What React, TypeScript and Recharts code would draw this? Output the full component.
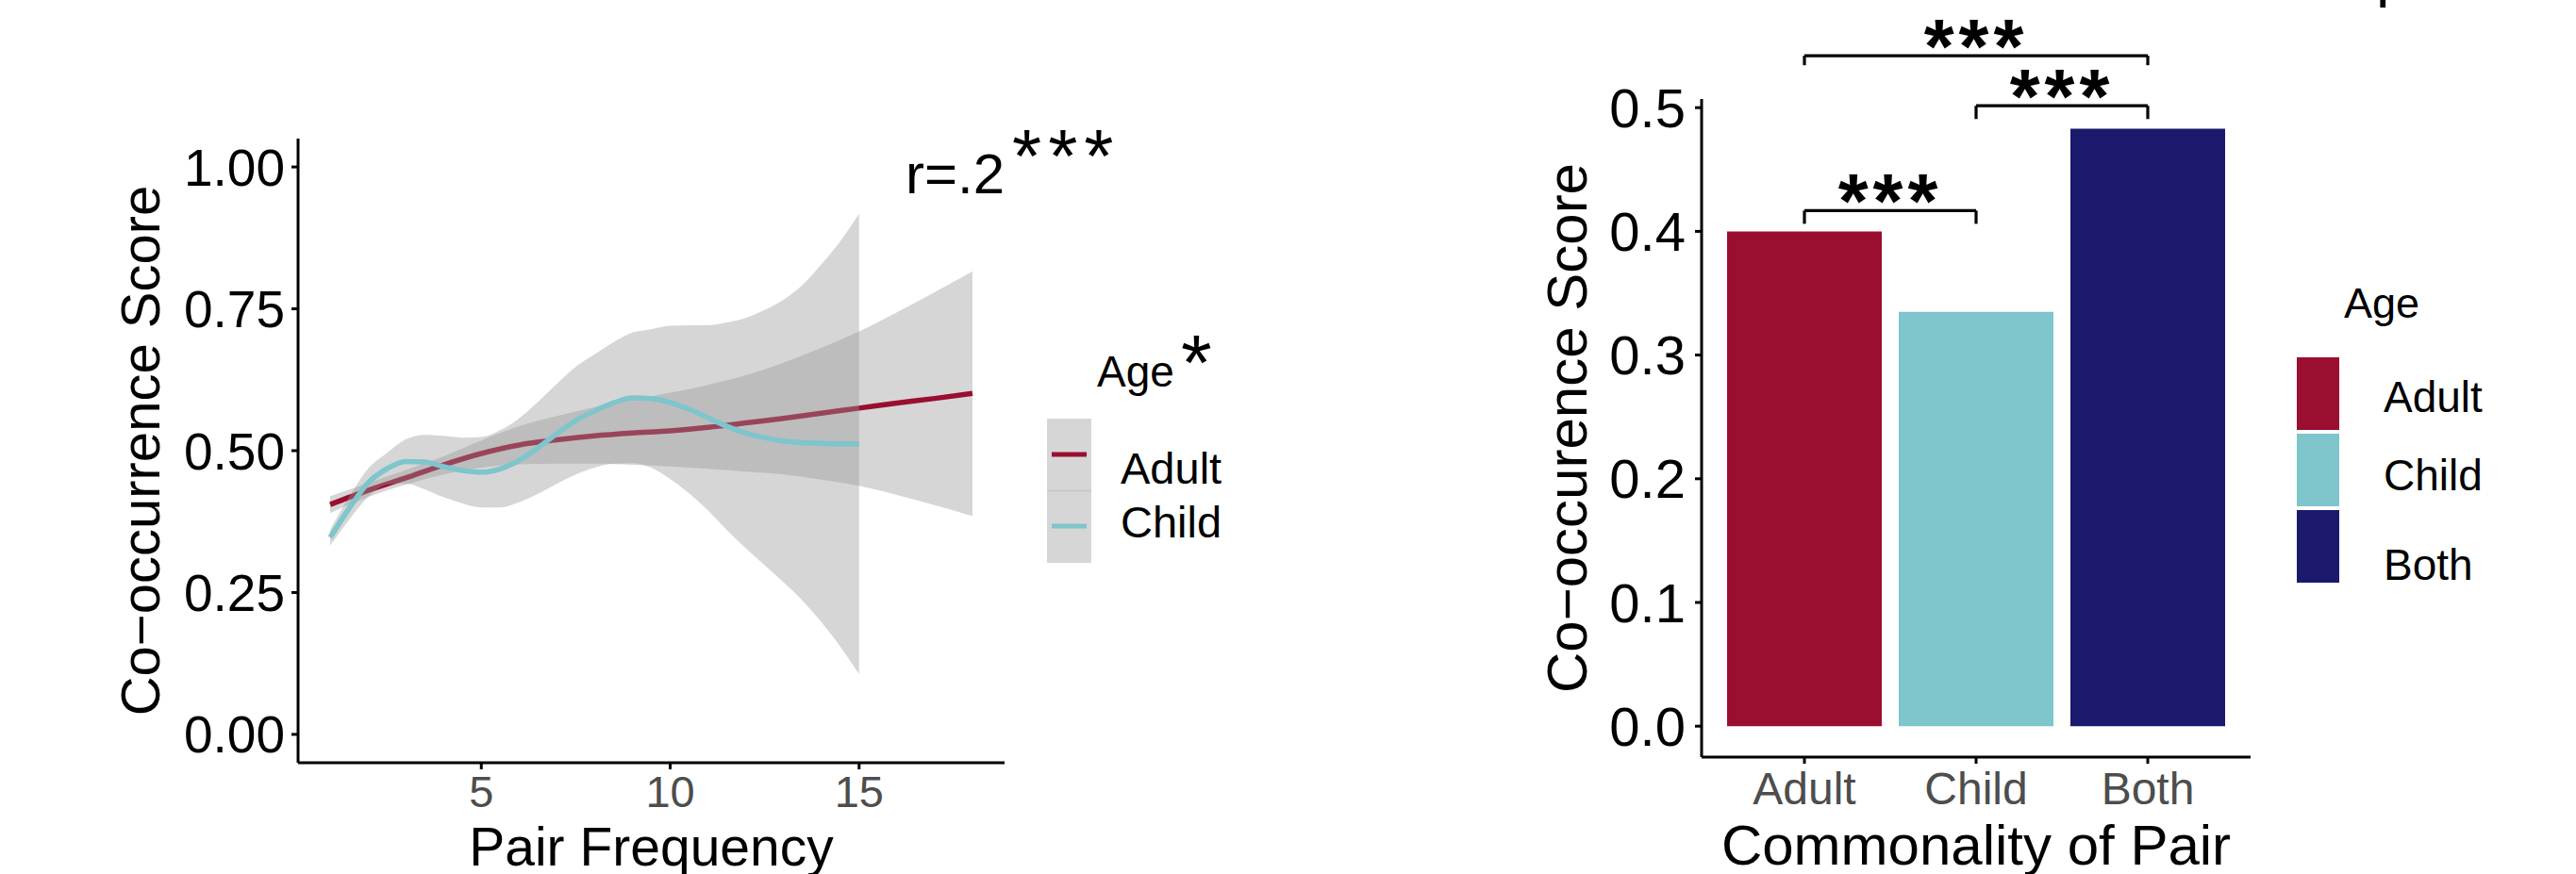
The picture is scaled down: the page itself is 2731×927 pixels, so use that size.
import React from "react";
import {
  Area,
  Bar,
  BarChart,
  Cell,
  ComposedChart,
  Line,
  ReferenceLine,
  XAxis,
  YAxis,
} from "recharts";

const FONT = '"Liberation Sans", Arial, Helvetica, sans-serif';

const ADULT = "#9A0E30";
const CHILD = "#7EC5CC";
const BOTH = "#1B196C";
const RIBBON = "#999999";

// left panel: smoothed score by pair frequency
const adultX = [1, 2, 3, 4, 5, 6, 7, 8, 9, 10, 11, 12, 13, 14, 15, 16, 17, 18];
const adultFit = [0.405, 0.43, 0.452, 0.475, 0.495, 0.51, 0.519, 0.526, 0.531, 0.535, 0.541, 0.549, 0.557, 0.566, 0.575, 0.584, 0.592, 0.601];
const adultLow = [0.39, 0.418, 0.44, 0.458, 0.47, 0.476, 0.477, 0.477, 0.475, 0.472, 0.468, 0.463, 0.458, 0.449, 0.438, 0.422, 0.404, 0.385];
const adultHigh = [0.42, 0.443, 0.466, 0.49, 0.518, 0.543, 0.561, 0.577, 0.59, 0.602, 0.616, 0.633, 0.655, 0.681, 0.71, 0.744, 0.779, 0.816];

const childX = [1, 1.5, 2, 2.5, 3, 3.5, 4, 4.5, 5, 5.5, 6, 6.5, 7, 7.5, 8, 8.5, 9, 9.5, 10, 10.5, 11, 11.5, 12, 12.5, 13, 13.5, 14, 14.5, 15];
const childFit = [0.347, 0.398, 0.443, 0.468, 0.481, 0.48, 0.472, 0.465, 0.462, 0.468, 0.483, 0.505, 0.53, 0.553, 0.57, 0.584, 0.593, 0.592, 0.585, 0.573, 0.558, 0.543, 0.531, 0.523, 0.517, 0.514, 0.513, 0.512, 0.512];
const childLow = [0.333, 0.378, 0.418, 0.44, 0.442, 0.432, 0.418, 0.407, 0.4, 0.4, 0.409, 0.424, 0.442, 0.458, 0.47, 0.477, 0.478, 0.47, 0.45, 0.425, 0.395, 0.36, 0.328, 0.298, 0.268, 0.236, 0.198, 0.155, 0.106];
const childHigh = [0.361, 0.418, 0.468, 0.496, 0.52, 0.528, 0.526, 0.523, 0.524, 0.536, 0.557, 0.586, 0.618, 0.648, 0.67, 0.691, 0.708, 0.714, 0.72, 0.721, 0.721, 0.726, 0.734, 0.748, 0.766, 0.792, 0.828, 0.869, 0.918];

const freqTicks = [5, 10, 15];
const scoreTicks = [0, 0.25, 0.5, 0.75, 1];

// right panel: mean score by commonality of pair
const commonality = ["Adult", "Child", "Both"];
const commonalityScore = [0.4, 0.335, 0.483];
const commonalityColors = [ADULT, CHILD, BOTH];
const barTicks = [0, 0.1, 0.2, 0.3, 0.4, 0.5];

const compFrom = ["Adult", "Child", "Adult"];
const compTo = ["Child", "Both", "Both"];
const compY = [0.4168, 0.5015, 0.542];
const compTip = [0.4061, 0.4908, 0.5343];
const compLabel = ["***", "***", "***"];

const adultRows = adultX.map((x, i) => ({ x, fit: adultFit[i], band: [adultLow[i], adultHigh[i]] }));
const childRows = childX.map((x, i) => ({ x, fit: childFit[i], band: [childLow[i], childHigh[i]] }));
const barRows = commonality.map((group, i) => ({ group, score: commonalityScore[i] }));

const axisStroke = { stroke: "#000", strokeWidth: 3 };

function StarLabel(props: any) {
  const vb = props.viewBox || {};
  return (
    <text
      x={vb.x + vb.width / 2}
      y={vb.y + 18}
      textAnchor="middle"
      fontSize={82}
      fontWeight="bold"
      letterSpacing={5}
      fill="#000"
      fontFamily={FONT}
    >
      {props.value}
    </text>
  );
}

function FrequencyPanel() {
  return (
    <ComposedChart width={1300} height={927} margin={{ top: 147, right: 235, bottom: 0, left: 0 }}>
      <XAxis
        type="number"
        dataKey="x"
        domain={[0.15, 18.85]}
        allowDataOverflow
        ticks={freqTicks}
        height={118}
        tickSize={7}
        tickMargin={7}
        tick={{ fontSize: 47, fill: "#4D4D4D" }}
        axisLine={axisStroke}
        tickLine={axisStroke}
        label={{ value: "Pair Frequency", position: "insideBottom", offset: 9, fontSize: 57, fill: "#000" }}
      />
      <YAxis
        type="number"
        domain={[-0.05, 1.05]}
        allowDataOverflow
        ticks={scoreTicks}
        width={316}
        tickSize={7}
        tickMargin={7}
        tickFormatter={(v: number) => v.toFixed(2)}
        tick={{ fontSize: 55, fill: "#000" }}
        axisLine={axisStroke}
        tickLine={axisStroke}
        label={{
          value: "Co\u2212occurrence Score",
          angle: -90,
          position: "insideLeft",
          offset: 148,
          fontSize: 58,
          fill: "#000",
          style: { textAnchor: "middle" },
        }}
      />
      <Area data={adultRows} dataKey="band" type="monotone" fill={RIBBON} fillOpacity={0.4} stroke="none" isAnimationActive={false} zIndex={101} />
      <Line data={adultRows} dataKey="fit" type="monotone" stroke={ADULT} strokeWidth={5.5} dot={false} activeDot={false} isAnimationActive={false} zIndex={102} />
      <Area data={childRows} dataKey="band" type="monotone" fill={RIBBON} fillOpacity={0.4} stroke="none" isAnimationActive={false} zIndex={103} />
      <Line data={childRows} dataKey="fit" type="monotone" stroke={CHILD} strokeWidth={5.5} dot={false} activeDot={false} isAnimationActive={false} zIndex={104} />
    </ComposedChart>
  );
}

function CommonalityPanel() {
  return (
    <BarChart width={1100} height={927} data={barRows} margin={{ top: 105, right: 164, bottom: 0, left: 0 }}>
      <XAxis
        type="category"
        dataKey="group"
        padding={{ left: 18, right: 18 }}
        height={124}
        tickSize={7}
        tickMargin={9}
        tick={{ fontSize: 48, fill: "#4D4D4D" }}
        axisLine={axisStroke}
        tickLine={axisStroke}
        label={{ value: "Commonality of Pair", position: "insideBottom", offset: 10, fontSize: 60, fill: "#000" }}
      />
      <YAxis
        type="number"
        domain={[-0.025, 0.507]}
        allowDataOverflow
        ticks={barTicks}
        width={354}
        tickSize={7}
        tickMargin={10}
        tickFormatter={(v: number) => v.toFixed(1)}
        tick={{ fontSize: 58, fill: "#000" }}
        axisLine={axisStroke}
        tickLine={axisStroke}
        label={{
          value: "Co\u2212occurence Score",
          angle: -90,
          position: "insideLeft",
          offset: 211,
          fontSize: 60,
          fill: "#000",
          style: { textAnchor: "middle" },
        }}
      />
      <Bar dataKey="score" barSize={164} isAnimationActive={false}>
        {barRows.map((r, i) => (
          <Cell key={r.group} fill={commonalityColors[i]} />
        ))}
      </Bar>
      {compY.map((y, i) => (
        <React.Fragment key={i}>
          <ReferenceLine
            segment={[{ x: compFrom[i], y }, { x: compTo[i], y }]}
            stroke="#000"
            strokeWidth={3.2}
            ifOverflow="visible"
            label={<StarLabel value={compLabel[i]} />}
          />
          <ReferenceLine segment={[{ x: compFrom[i], y }, { x: compFrom[i], y: compTip[i] }]} stroke="#000" strokeWidth={3.2} ifOverflow="visible" />
          <ReferenceLine segment={[{ x: compTo[i], y }, { x: compTo[i], y: compTip[i] }]} stroke="#000" strokeWidth={3.2} ifOverflow="visible" />
        </React.Fragment>
      ))}
    </BarChart>
  );
}

function Overlay() {
  return (
    <svg width={2731} height={927} style={{ position: "absolute", left: 0, top: 0, pointerEvents: "none" }} fontFamily={FONT}>
      {/* correlation note */}
      <text x={960} y={205} fontSize={60} fill="#000">r=.2</text>
      <text x={1073} y={193} fontSize={80} letterSpacing={7} fill="#000">***</text>

      {/* left legend */}
      <text x={1163} y={410} fontSize={46} fill="#000">Age</text>
      <text x={1252} y={414} fontSize={84} fill="#000">*</text>
      <rect x={1110} y={444} width={47} height={153} fill="#D6D6D6" />
      <line x1={1110} x2={1157} y1={520.5} y2={520.5} stroke="#C4C4C4" strokeWidth={1.5} />
      <line x1={1115} x2={1152} y1={482} y2={482} stroke={ADULT} strokeWidth={5} />
      <line x1={1115} x2={1152} y1={558} y2={558} stroke={CHILD} strokeWidth={5} />
      <text x={1188} y={513} fontSize={47} fill="#000">Adult</text>
      <text x={1188} y={570} fontSize={47} fill="#000">Child</text>

      {/* right legend */}
      <text x={2485} y={337} fontSize={45} fill="#000">Age</text>
      <rect x={2435} y={379} width={45} height={77} fill={ADULT} />
      <rect x={2435} y={460} width={45} height={77} fill={CHILD} />
      <rect x={2435} y={541} width={45} height={77} fill={BOTH} />
      <text x={2527} y={437} fontSize={46} fill="#000">Adult</text>
      <text x={2527} y={520} fontSize={46} fill="#000">Child</text>
      <text x={2527} y={615} fontSize={46} fill="#000">Both</text>

      {/* clipped glyph at the top edge */}
      <text x={2519} y={-5} fontSize={65} fill="#000">p</text>
    </svg>
  );
}

export default function App() {
  return (
    <div style={{ position: "relative", width: 2731, height: 927, background: "#fff", overflow: "hidden", fontFamily: FONT }}>
      <style>{`body{margin:0}`}</style>
      <div style={{ position: "absolute", left: 0, top: 0 }}>
        <FrequencyPanel />
      </div>
      <div style={{ position: "absolute", left: 1450, top: 0 }}>
        <CommonalityPanel />
      </div>
      <Overlay />
    </div>
  );
}
